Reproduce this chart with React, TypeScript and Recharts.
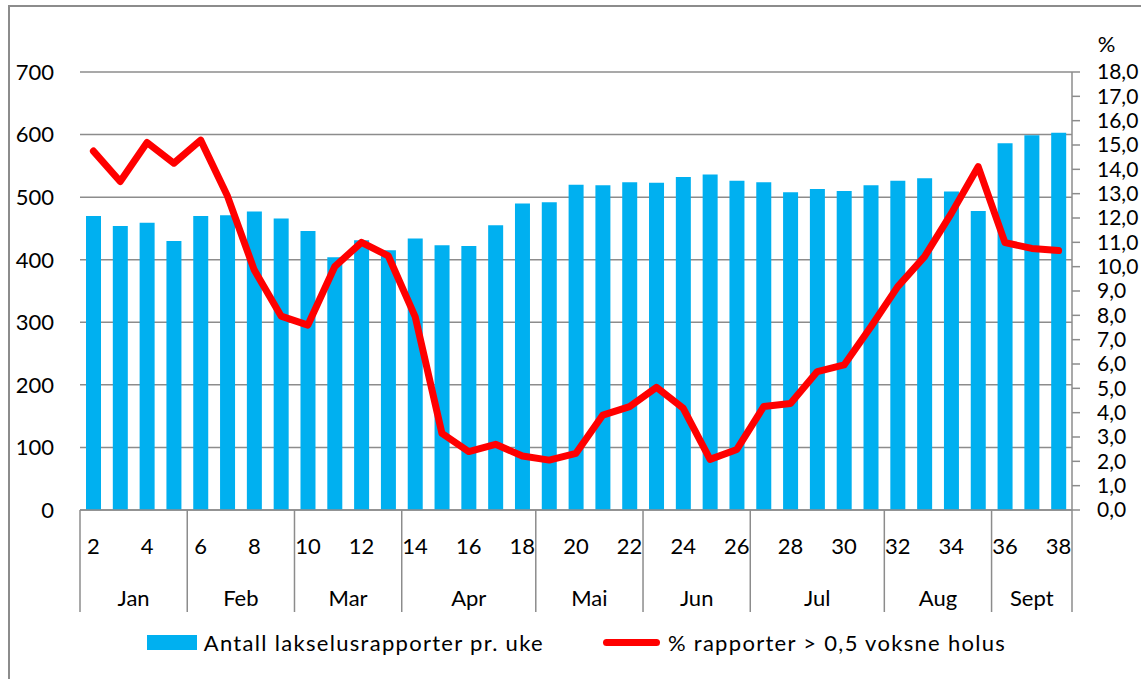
import React from "react";
import {
  ComposedChart,
  Bar,
  Line,
  XAxis,
  YAxis,
  CartesianGrid,
  Legend,
} from "recharts";

// week numbers 2..38
const weeks = [
  2, 3, 4, 5, 6, 7, 8, 9, 10, 11, 12, 13, 14, 15, 16, 17, 18, 19, 20, 21, 22,
  23, 24, 25, 26, 27, 28, 29, 30, 31, 32, 33, 34, 35, 36, 37, 38,
];

// Antall lakselusrapporter pr. uke
const lusCounts = [
  470, 454, 459, 430, 470, 471, 477, 466, 446, 404, 431, 415, 434, 423, 422,
  455, 490, 492, 520, 519, 524, 523, 532, 536, 526, 524, 508, 513, 510, 519,
  526, 530, 509, 478, 586, 599, 603,
];

// % rapporter > 0,5 voksne holus
const pctOver = [
  14.75, 13.5, 15.1, 14.25, 15.2, 12.9, 9.86, 7.97, 7.6, 10.0, 11.0, 10.44,
  7.95, 3.15, 2.4, 2.7, 2.22, 2.05, 2.33, 3.9, 4.25, 5.04, 4.18, 2.08, 2.49,
  4.25, 4.38, 5.69, 5.96, 7.53, 9.18, 10.41, 12.19, 14.11, 10.99, 10.75, 10.66,
];

const monthNames = ["Jan", "Feb", "Mar", "Apr", "Mai", "Jun", "Jul", "Aug", "Sept"];
const monthStartWeeks = [2, 6, 10, 14, 19, 23, 27, 32, 36];

const countTicks = [0, 100, 200, 300, 400, 500, 600, 700];
const pctTicks = [0, 1, 2, 3, 4, 5, 6, 7, 8, 9, 10, 11, 12, 13, 14, 15, 16, 17, 18];

const data = weeks.map((w, i) => ({ week: w, count: lusCounts[i], pct: pctOver[i] }));

const FONT = "Lato, 'Open Sans', sans-serif";
const BLUE = "#00B0F0";
const RED = "#FF0000";
const GRID = "#8c8c8c";

function WeekMonthTick(props: any) {
  const { x, y, payload, index } = props;
  const half = payload && payload.offset ? payload.offset : 13.4;
  const week = weeks[index];
  const mi = monthStartWeeks.indexOf(week);
  const lastWeek = weeks[weeks.length - 1];
  const parts: React.ReactNode[] = [];

  if (week % 2 === 0) {
    parts.push(
      <text key="w" x={x} y={y + 35} textAnchor="middle" dominantBaseline="central"
        fill="#000" fontSize={22} fontFamily={FONT}>
        {week}
      </text>
    );
  }
  if (mi >= 0) {
    const next = mi + 1 < monthStartWeeks.length ? monthStartWeeks[mi + 1] : lastWeek + 1;
    const span = next - week;
    parts.push(
      <line key="s" x1={x - half} x2={x - half} y1={y} y2={y + 102} stroke={GRID} strokeWidth={1.5} />
    );
    parts.push(
      <text key="m" x={x + half * (span - 1)} y={y + 87} textAnchor="middle"
        dominantBaseline="central" fill="#000" fontSize={22} fontFamily={FONT}>
        {monthNames[mi]}
      </text>
    );
  }
  if (week === lastWeek) {
    parts.push(
      <line key="e" x1={x + half} x2={x + half} y1={y} y2={y + 102} stroke={GRID} strokeWidth={1.5} />
    );
  }
  return <g>{parts}</g>;
}

const renderLegend = () => (
  <div
    style={{
      display: "flex",
      justifyContent: "center",
      alignItems: "center",
      height: 44,
      fontFamily: FONT,
      fontSize: 22,
      letterSpacing: 1.3,
      color: "#000",
      paddingLeft: 12,
    }}
  >
    <span style={{ display: "inline-block", width: 50, height: 15, background: BLUE, marginRight: 7 }} />
    <span>Antall lakselusrapporter pr. uke</span>
    <span
      style={{
        display: "inline-block",
        width: 57,
        height: 7,
        borderRadius: 4,
        background: RED,
        marginLeft: 59,
        marginRight: 8,
      }}
    />
    <span>% rapporter &gt; 0,5 voksne holus</span>
  </div>
);

export default function App() {
  return (
    <div style={{ position: "absolute", left: 0, top: 0, width: 1141, height: 679, background: "#fff", overflow: "hidden" }}>
      <div
        style={{
          position: "absolute",
          left: 8,
          top: 5,
          width: 1200,
          height: 700,
          borderLeft: `2px solid ${GRID}`,
          borderTop: `2px solid ${GRID}`,
        }}
      />
      <ComposedChart
        width={1141}
        height={679}
        data={data}
        margin={{ top: 72, right: 0, bottom: 15, left: 0 }}
        barCategoryGap={0}
      >
        <CartesianGrid yAxisId="left" vertical={false} horizontal stroke={GRID} strokeWidth={1.5} />
        <XAxis
          dataKey="week"
          interval={0}
          height={110}
          tickSize={0}
          tickMargin={0}
          tickLine={false}
          axisLine={{ stroke: GRID, strokeWidth: 1.5 }}
          tick={<WeekMonthTick />}
        />
        <YAxis
          yAxisId="left"
          width={80}
          domain={[0, 700]}
          ticks={countTicks}
          axisLine={false}
          tickLine={false}
          tickSize={0}
          tickMargin={26}
          tick={{ fill: "#000", fontSize: 22, fontFamily: FONT }}
        />
        <YAxis
          yAxisId="right"
          orientation="right"
          width={69}
          domain={[0, 18]}
          ticks={pctTicks}
          interval={0}
          axisLine={{ stroke: GRID, strokeWidth: 1.5 }}
          tickLine={{ stroke: GRID, strokeWidth: 1.5 }}
          tickSize={8}
          tickMargin={17}
          tickFormatter={(v: number) => v.toFixed(1).replace(".", ",")}
          tick={{ fill: "#000", fontSize: 21, fontFamily: FONT, textAnchor: "start" }}
          label={{ value: "%", position: "top", offset: 20, fill: "#000", fontSize: 22, fontFamily: FONT }}
        />
        <Bar yAxisId="left" dataKey="count" fill={BLUE} barSize={15} isAnimationActive={false} />
        <Line
          yAxisId="right"
          dataKey="pct"
          stroke={RED}
          strokeWidth={7}
          strokeLinejoin="round"
          strokeLinecap="round"
          dot={false}
          activeDot={false}
          type="linear"
          isAnimationActive={false}
        />
        <Legend verticalAlign="bottom" content={renderLegend} />
      </ComposedChart>
    </div>
  );
}
